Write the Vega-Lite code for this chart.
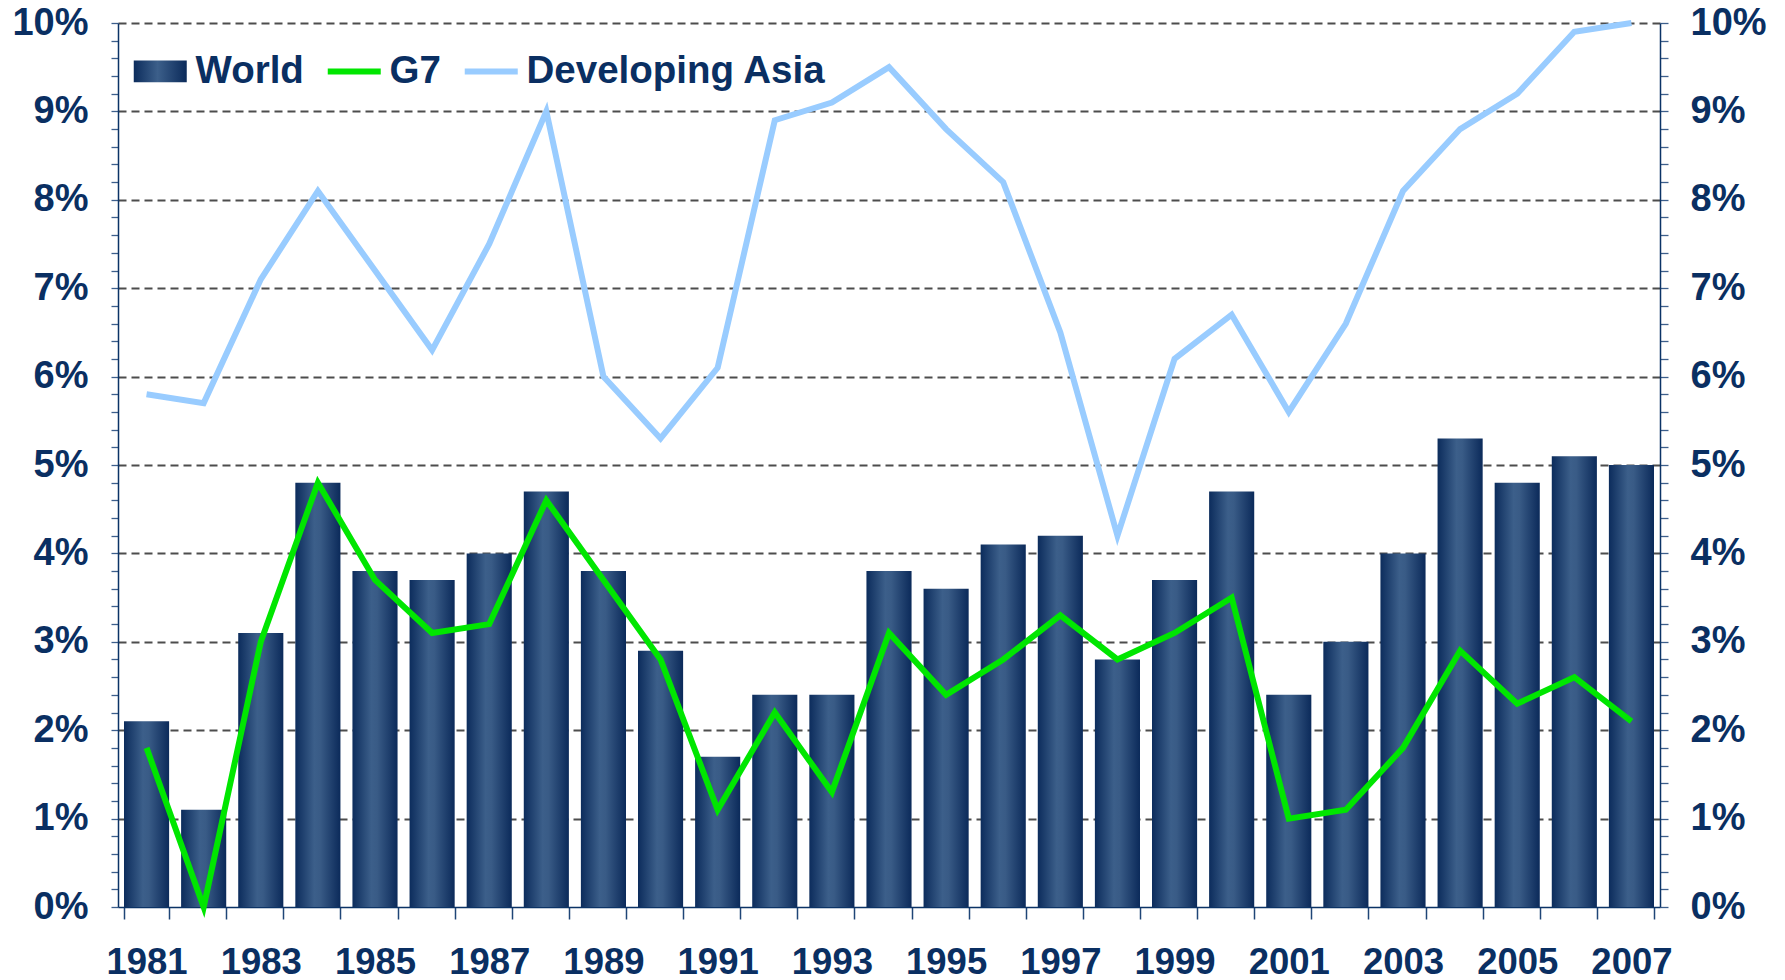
{
  "$schema": "https://vega.github.io/schema/vega-lite/v6.json",
  "autosize": "none",
  "width": 1542,
  "height": 884,
  "padding": {"left": 118, "top": 23, "right": 125, "bottom": 73},
  "background": "white",
  "config": {"view": {"stroke": null}},
  "data": {"values": [
    {"year": 1981, "series": "World", "value": 2.1}, {"year": 1982, "series": "World", "value": 1.1},
    {"year": 1983, "series": "World", "value": 3.1}, {"year": 1984, "series": "World", "value": 4.8},
    {"year": 1985, "series": "World", "value": 3.8}, {"year": 1986, "series": "World", "value": 3.7},
    {"year": 1987, "series": "World", "value": 4.0}, {"year": 1988, "series": "World", "value": 4.7},
    {"year": 1989, "series": "World", "value": 3.8}, {"year": 1990, "series": "World", "value": 2.9},
    {"year": 1991, "series": "World", "value": 1.7}, {"year": 1992, "series": "World", "value": 2.4},
    {"year": 1993, "series": "World", "value": 2.4}, {"year": 1994, "series": "World", "value": 3.8},
    {"year": 1995, "series": "World", "value": 3.6}, {"year": 1996, "series": "World", "value": 4.1},
    {"year": 1997, "series": "World", "value": 4.2}, {"year": 1998, "series": "World", "value": 2.8},
    {"year": 1999, "series": "World", "value": 3.7}, {"year": 2000, "series": "World", "value": 4.7},
    {"year": 2001, "series": "World", "value": 2.4}, {"year": 2002, "series": "World", "value": 3.0},
    {"year": 2003, "series": "World", "value": 4.0}, {"year": 2004, "series": "World", "value": 5.3},
    {"year": 2005, "series": "World", "value": 4.8}, {"year": 2006, "series": "World", "value": 5.1},
    {"year": 2007, "series": "World", "value": 5.0},
    {"year": 1981, "series": "G7", "value": 1.8}, {"year": 1982, "series": "G7", "value": 0.0},
    {"year": 1983, "series": "G7", "value": 3.0}, {"year": 1984, "series": "G7", "value": 4.8},
    {"year": 1985, "series": "G7", "value": 3.7}, {"year": 1986, "series": "G7", "value": 3.1},
    {"year": 1987, "series": "G7", "value": 3.2}, {"year": 1988, "series": "G7", "value": 4.6},
    {"year": 1989, "series": "G7", "value": 3.7}, {"year": 1990, "series": "G7", "value": 2.8},
    {"year": 1991, "series": "G7", "value": 1.1}, {"year": 1992, "series": "G7", "value": 2.2},
    {"year": 1993, "series": "G7", "value": 1.3}, {"year": 1994, "series": "G7", "value": 3.1},
    {"year": 1995, "series": "G7", "value": 2.4}, {"year": 1996, "series": "G7", "value": 2.8},
    {"year": 1997, "series": "G7", "value": 3.3}, {"year": 1998, "series": "G7", "value": 2.8},
    {"year": 1999, "series": "G7", "value": 3.1}, {"year": 2000, "series": "G7", "value": 3.5},
    {"year": 2001, "series": "G7", "value": 1.0}, {"year": 2002, "series": "G7", "value": 1.1},
    {"year": 2003, "series": "G7", "value": 1.8}, {"year": 2004, "series": "G7", "value": 2.9},
    {"year": 2005, "series": "G7", "value": 2.3}, {"year": 2006, "series": "G7", "value": 2.6},
    {"year": 2007, "series": "G7", "value": 2.1},
    {"year": 1981, "series": "Developing Asia", "value": 5.8}, {"year": 1982, "series": "Developing Asia", "value": 5.7},
    {"year": 1983, "series": "Developing Asia", "value": 7.1}, {"year": 1984, "series": "Developing Asia", "value": 8.1},
    {"year": 1985, "series": "Developing Asia", "value": 7.2}, {"year": 1986, "series": "Developing Asia", "value": 6.3},
    {"year": 1987, "series": "Developing Asia", "value": 7.5}, {"year": 1988, "series": "Developing Asia", "value": 9.0},
    {"year": 1989, "series": "Developing Asia", "value": 6.0}, {"year": 1990, "series": "Developing Asia", "value": 5.3},
    {"year": 1991, "series": "Developing Asia", "value": 6.1}, {"year": 1992, "series": "Developing Asia", "value": 8.9},
    {"year": 1993, "series": "Developing Asia", "value": 9.1}, {"year": 1994, "series": "Developing Asia", "value": 9.5},
    {"year": 1995, "series": "Developing Asia", "value": 8.8}, {"year": 1996, "series": "Developing Asia", "value": 8.2},
    {"year": 1997, "series": "Developing Asia", "value": 6.5}, {"year": 1998, "series": "Developing Asia", "value": 4.2},
    {"year": 1999, "series": "Developing Asia", "value": 6.2}, {"year": 2000, "series": "Developing Asia", "value": 6.7},
    {"year": 2001, "series": "Developing Asia", "value": 5.6}, {"year": 2002, "series": "Developing Asia", "value": 6.6},
    {"year": 2003, "series": "Developing Asia", "value": 8.1}, {"year": 2004, "series": "Developing Asia", "value": 8.8},
    {"year": 2005, "series": "Developing Asia", "value": 9.2}, {"year": 2006, "series": "Developing Asia", "value": 9.9},
    {"year": 2007, "series": "Developing Asia", "value": 10.0}
  ]},
  "layer": [
    {
      "transform": [{"filter": "datum.series === 'World'"}],
      "mark": {"type": "bar", "color": {"gradient": "linear", "x1": 0, "y1": 0, "x2": 1, "y2": 0, "stops": [{"offset": 0, "color": "#0c2c5c"}, {"offset": 0.42, "color": "#3c5f8a"}, {"offset": 0.55, "color": "#395b86"}, {"offset": 1, "color": "#0b2a5a"}]}},
      "encoding": {
        "x": {"field": "year", "type": "ordinal", "scale": {"paddingInner": 0.21, "paddingOuter": 0.105},
          "axis": {"title": null, "labelAngle": 0, "labelExpr": "datum.value % 2 === 1 ? datum.label : ''", "labelOverlap": false, "tickBand": "extent", "tickSize": 12, "tickColor": "#1f4577", "tickWidth": 1.5, "domainColor": "#0b3366", "domainWidth": 1.5, "labelFont": "Liberation Sans", "labelFontSize": 36.5, "labelFontWeight": "bold", "labelColor": "#0a2f62", "labelPadding": 25}},
        "y": {"field": "value", "type": "quantitative", "scale": {"domain": [0, 10], "nice": false},
          "axis": {"orient": "left", "title": null, "values": [0,0.2,0.4,0.6,0.8,1,1.2,1.4,1.6,1.8,2,2.2,2.4,2.6,2.8,3,3.2,3.4,3.6,3.8,4,4.2,4.4,4.6,4.8,5,5.2,5.4,5.6,5.8,6,6.2,6.4,6.6,6.8,7,7.2,7.4,7.6,7.8,8,8.2,8.4,8.6,8.8,9,9.2,9.4,9.6,9.8,10],
            "labelExpr": "datum.value % 1 === 0 ? datum.value + '%' : ''", "labelOverlap": false, "labelFlush": false,
            "grid": true, "gridOpacity": {"condition": {"test": "datum.value % 1 === 0 && datum.value > 0", "value": 1}, "value": 0},
            "gridDash": [8, 5], "gridColor": "#4d4d4d", "gridWidth": 1.8,
            "tickSize": 7, "tickColor": "#3d5f8c", "tickWidth": 1.3, "domainColor": "#0b3366", "domainWidth": 1.5,
            "labelFont": "Liberation Sans", "labelFontSize": 38, "labelFontWeight": "bold", "labelColor": "#0a2f62", "labelPadding": 23}}
      }
    },
    {
      "transform": [{"filter": "datum.series !== 'World'"}],
      "mark": {"type": "line", "strokeWidth": 6, "strokeJoin": "miter"},
      "encoding": {
        "x": {"field": "year", "type": "ordinal"},
        "y": {"field": "value", "type": "quantitative",
          "axis": {"orient": "right", "title": null, "values": [0,0.2,0.4,0.6,0.8,1,1.2,1.4,1.6,1.8,2,2.2,2.4,2.6,2.8,3,3.2,3.4,3.6,3.8,4,4.2,4.4,4.6,4.8,5,5.2,5.4,5.6,5.8,6,6.2,6.4,6.6,6.8,7,7.2,7.4,7.6,7.8,8,8.2,8.4,8.6,8.8,9,9.2,9.4,9.6,9.8,10],
            "labelExpr": "datum.value % 1 === 0 ? datum.value + '%' : ''", "labelOverlap": false, "labelFlush": false, "grid": false,
            "tickSize": 8, "tickColor": "#3d5f8c", "tickWidth": 1.3, "domainColor": "#0b3366", "domainWidth": 1.5,
            "labelFont": "Liberation Sans", "labelFontSize": 38, "labelFontWeight": "bold", "labelColor": "#0a2f62", "labelPadding": 22}},
        "color": {"field": "series", "type": "nominal",
          "scale": {"domain": ["World", "G7", "Developing Asia"], "range": ["#1e3f6e", "#00e600", "#99ccff"]},
          "legend": {"orient": "none", "legendX": 23, "legendY": 29, "direction": "horizontal", "title": null, "padding": 0,
            "symbolType": "stroke", "symbolSize": 2809, "symbolStrokeWidth": 6, "labelOffset": 16, "columnPadding": 11, "labelLimit": 500,
            "labelFont": "Liberation Sans", "labelFontSize": 38.5, "labelFontWeight": "bold", "labelColor": "#0a2f62",
            "encode": {"symbols": {"update": {
              "shape": {"signal": "datum.value === 'World' ? 'M-1,-0.415H1V0.415H-1Z' : 'stroke'"},
              "fill": {"signal": "datum.value === 'World' ? {gradient: 'linear', x1: 0, y1: 0, x2: 1, y2: 0, stops: [{offset: 0, color: '#0c2c5c'}, {offset: 0.45, color: '#3c5f8a'}, {offset: 1, color: '#0b2a5a'}]} : 'transparent'"},
              "strokeWidth": {"signal": "datum.value === 'World' ? 0 : 6"}
            }}}}
        }
      }
    }
  ],
  "resolve": {"axis": {"y": "independent"}}
}
